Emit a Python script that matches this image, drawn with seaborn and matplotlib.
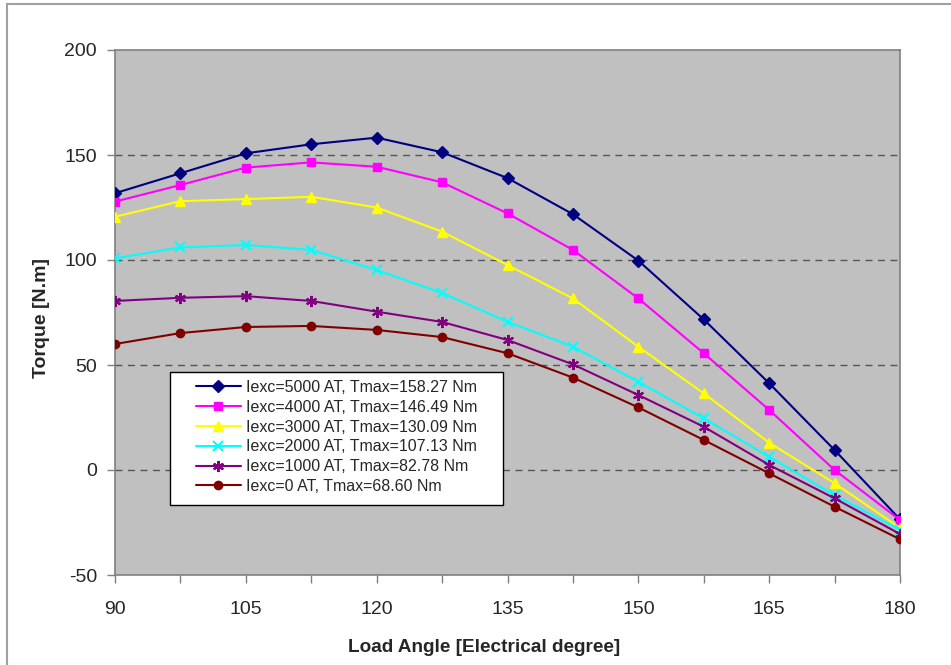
import matplotlib
matplotlib.use("Agg")
import matplotlib.pyplot as plt
import seaborn as sns
import pandas as pd
import numpy as np
from matplotlib.patches import Rectangle

angles = [90, 97.5, 105, 112.5, 120, 127.5, 135, 142.5, 150, 157.5, 165, 172.5, 180]
t_5000 = [131.8, 141.3, 150.8, 155.1, 158.27, 151.3, 139.0, 121.8, 99.7, 71.7, 41.3, 9.5, -23.5]
t_4000 = [127.8, 135.7, 144.0, 146.49, 144.4, 137.0, 122.2, 104.8, 81.7, 55.6, 28.6, 0.0, -23.8]
t_3000 = [120.6, 128.0, 129.0, 130.09, 125.0, 113.5, 97.6, 81.7, 58.7, 36.5, 13.0, -6.3, -27.6]
t_2000 = [100.8, 106.0, 107.13, 104.8, 95.2, 84.3, 70.6, 58.7, 42.0, 24.6, 6.3, -12.0, -28.5]
t_1000 = [80.5, 82.0, 82.78, 80.5, 75.4, 70.5, 61.9, 50.3, 35.7, 20.6, 2.4, -13.5, -30.5]
t_0 = [60.0, 65.2, 68.1, 68.60, 66.7, 63.3, 55.6, 44.0, 29.8, 14.3, -1.6, -17.5, -33.0]

labels = ["Iexc=5000 AT, Tmax=158.27 Nm",
          "Iexc=4000 AT, Tmax=146.49 Nm",
          "Iexc=3000 AT, Tmax=130.09 Nm",
          "Iexc=2000 AT, Tmax=107.13 Nm",
          "Iexc=1000 AT, Tmax=82.78 Nm",
          "Iexc=0 AT, Tmax=68.60 Nm"]
series = [t_5000, t_4000, t_3000, t_2000, t_1000, t_0]
colors = ["#000080", "#FF00FF", "#FFFF00", "#00FFFF", "#800080", "#800000"]
markers = ["D", "s", "^", "x", (6, 2, 0), "o"]
msizes = [6, 6, 7, 7, 8, 6]

sns.set_style("white")
plt.rcParams['font.family'] = ['Liberation Sans', 'DejaVu Sans']
plt.rcParams['axes.unicode_minus'] = False

fig = plt.figure(figsize=(9.51, 6.65), dpi=100)
fig.patch.set_facecolor("white")
fig.patches.append(Rectangle((7 / 951, -0.1), 1.2, 0.1 + 1 - 4 / 665, transform=fig.transFigure,
                             fill=False, edgecolor="#A0A0A0", linewidth=1.5, zorder=0))

ax = fig.add_axes([115 / 951, 1 - 575 / 665, 785 / 951, 525 / 665])
ax.set_facecolor("#C0C0C0")

for lab, vals, col, mk, ms in zip(labels, series, colors, markers, msizes):
    df = pd.DataFrame({"angle": angles, "torque": vals})
    sns.lineplot(data=df, x="angle", y="torque", ax=ax, color=col, marker=mk,
                 markersize=ms, markeredgecolor=col, markerfacecolor=col,
                 markeredgewidth=1.5 if mk in ("x",) or isinstance(mk, tuple) else 1,
                 linewidth=1.5, label=lab, zorder=3)

ax.set_xlim(90, 180)
ax.set_ylim(-50, 200)
xt = np.arange(90, 180.1, 7.5)
ax.set_xticks(xt)
ax.set_xticklabels([str(int(v)) if (v - 90) % 15 == 0 else "" for v in xt])
ax.set_yticks([-50, 0, 50, 100, 150, 200])
for y in [0, 50, 100, 150]:
    ax.axhline(y, color="#555555", linestyle=(0, (5, 4)), linewidth=1, zorder=1)

for s in ax.spines.values():
    s.set_color("#808080")
    s.set_linewidth(1.2)
ax.tick_params(axis="both", direction="out", length=6, width=1, color="#808080",
               labelsize=14, bottom=True, left=True)
ax.tick_params(axis="x", pad=13)
ax.tick_params(axis="y", pad=7)

ax.set_xlabel("Load Angle [Electrical degree]", fontsize=13.7, fontweight="bold")
ax.set_ylabel("Torque [N.m]", fontsize=14, fontweight="bold")
ax.xaxis.set_label_coords(0.47, -0.122)
ax.yaxis.set_label_coords(-0.083, 0.49)

# legend box
ax.add_patch(Rectangle(((170 - 115) / 785, (575 - 505) / 525), (503 - 170) / 785, (505 - 372) / 525,
                       transform=ax.transAxes, facecolor="white", edgecolor="black",
                       linewidth=1, zorder=4))
leg = ax.legend(loc="upper left", bbox_to_anchor=((196 - 115) / 785, (575 - 380) / 525),
                fontsize=11.5, frameon=False, borderpad=0, borderaxespad=0,
                labelspacing=0.3, handlelength=2.8, handletextpad=0.35)
leg.set_zorder(5)

fig.savefig("out.png", dpi=100, facecolor="white")
